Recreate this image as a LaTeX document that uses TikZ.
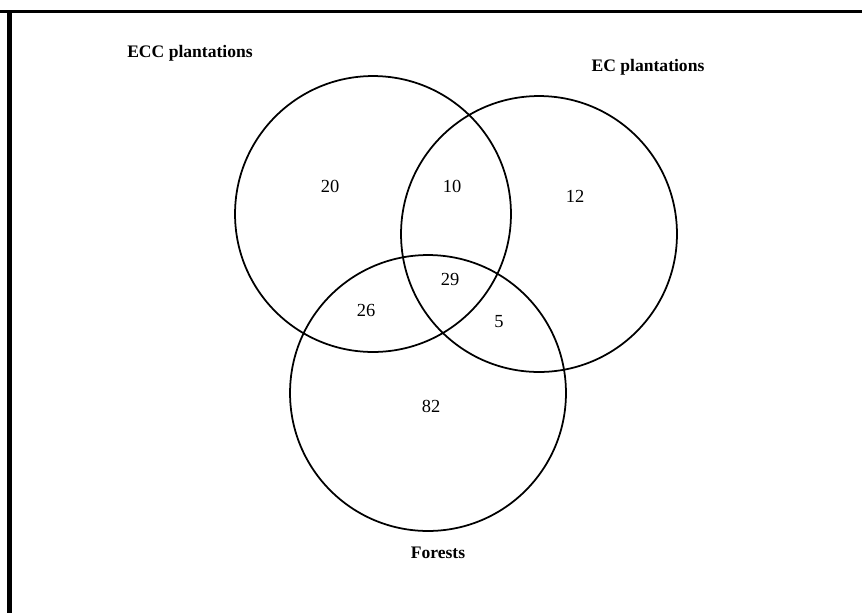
\documentclass[tikz,border=0pt]{standalone}
\usepackage{fontspec}
\setmainfont{Liberation Serif}
\usetikzlibrary{positioning}
\tikzset{venn/.style = {draw, circle, line width = 1pt, inner sep = 0, minimum size = 5.52cm}}
\tikzset{setlabel/.style = {font = \bfseries\fontsize{10}{12}\selectfont, inner sep = 0}}
\tikzset{count/.style = {font = \fontsize{10.5}{12}\selectfont, inner sep = 0}}

\begin{document}
\begin{tikzpicture}[x = 0.02cm, y = -0.02cm]
      \useasboundingbox (0, 0) rectangle (862, 613);
      \draw [line width = 1.7pt] (0, 11.5) -- (862, 11.5);
      \draw [line width = 2.6pt] (9.5, 10.5) -- (9.5, 613);

      \node (ecc) at (373, 214) [venn] {};
      \node (ec) at (539, 234) [venn] {};
      \node (forest) at (428, 393) [venn] {};

      \node (ecclabel) at (190, 53) [setlabel] {ECC plantations};
      \node (eclabel) at (648, 67) [setlabel] {EC plantations};
      \node (forestlabel) at (438, 553) [setlabel] {Forests};

      \node (n20) at (330, 186) [count] {20};
      \node (n10) at (452, 186) [count] {10};
      \node (n12) at (575, 196) [count] {12};
      \node (n29) at (450, 279) [count] {29};
      \node (n26) at (366, 310) [count] {26};
      \node (n5) at (499, 322) [count] {5};
      \node (n82) at (431, 406) [count] {82};
    \end{tikzpicture}
\end{document}
